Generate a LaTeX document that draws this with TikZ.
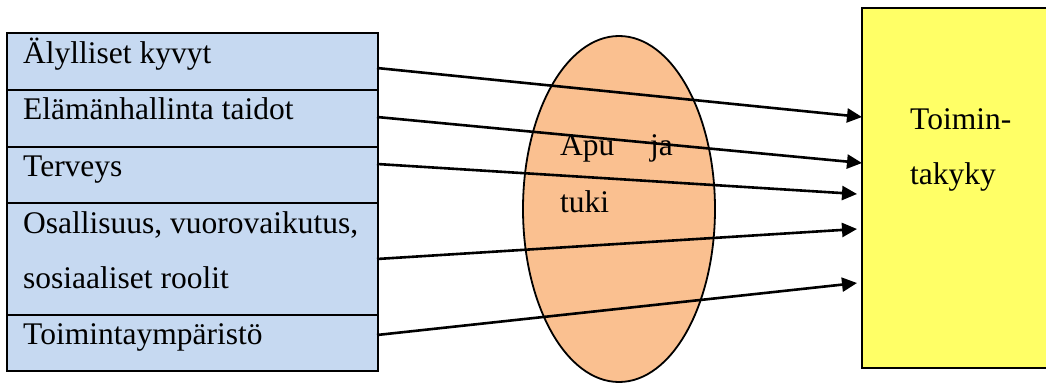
\documentclass[tikz,border=0pt]{standalone}
\usepackage{fontspec}
\setmainfont{Liberation Serif}
\usetikzlibrary{arrows.meta}
\definecolor{rowblue}{HTML}{C6D9F1}
\definecolor{peach}{HTML}{FAC090}
\definecolor{lemon}{HTML}{FFFF66}
\begin{document}
\begin{tikzpicture}[x=1pt,y=-1pt,
  lbl/.style={anchor=base west,inner sep=0pt,font=\fontsize{31.5}{36}\selectfont},
  rowbox/.style={draw=black,line width=2.5pt,fill=rowblue},
  link/.style={line width=2.6pt,-{Triangle[length=15pt,width=14pt]}}]
\useasboundingbox (0,0) rectangle (1046,383);
% factor rows on the left
\draw[rowbox] (7,33) rectangle (378,90);
\draw[rowbox] (7,90) rectangle (378,147);
\draw[rowbox] (7,147) rectangle (378,203);
\draw[rowbox] (7,203) rectangle (378,315);
\draw[rowbox] (7,315) rectangle (378,371);
\node[lbl] (t1) at (23,63) {Älylliset kyvyt};
\node[lbl] (t2) at (23,119) {Elämänhallinta taidot};
\node[lbl] (t3) at (23,176) {Terveys};
\node[lbl] (t4) at (23,233) {Osallisuus, vuorovaikutus,};
\node[lbl] (t4b) at (23,288) {sosiaaliset roolit};
\node[lbl] (t5) at (23,344) {Toimintaympäristö};
% support ellipse in the middle
\draw[line width=1.8pt,fill=peach] (619,209) ellipse [x radius=96,y radius=173];
% outcome box on the right
\draw[line width=1.8pt,fill=lemon] (862,8) rectangle (1060,368);
\node[lbl] (r1) at (910,129) {Toimin-};
\node[lbl] (r2) at (910,184) {takyky};
% connector end points
\coordinate (s1) at (377,68);  \coordinate (e1) at (862,117);
\coordinate (s2) at (377,117); \coordinate (e2) at (862,163);
\coordinate (s3) at (377,164); \coordinate (e3) at (857,194);
\coordinate (s4) at (377,259); \coordinate (e4) at (857,229);
\coordinate (s5) at (377,335); \coordinate (e5) at (857,283);
\draw[link] (s1) -- (e1);
\draw[link] (s2) -- (e2);
\draw[link] (s3) -- (e3);
\draw[link] (s4) -- (e4);
\draw[link] (s5) -- (e5);
% ellipse label
\node[lbl] (a1) at (560,155) {Apu};
\node[lbl] (a2) at (650,155) {ja};
\node[lbl] (a3) at (560,212) {tuki};
\end{tikzpicture}
\end{document}
